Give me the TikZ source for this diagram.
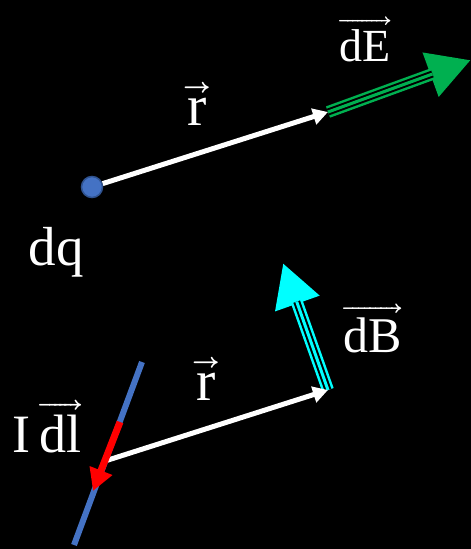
\documentclass[tikz,border=0pt]{standalone}
\usepackage{amsmath}
\usepackage{unicode-math}
\setmainfont{Liberation Serif}
\setmathfont{Latin Modern Math}
\usetikzlibrary{arrows.meta}
\definecolor{wireblue}{HTML}{4472C4}
\definecolor{dotedge}{HTML}{2F528F}
\definecolor{fieldgreen}{HTML}{00B050}
\definecolor{fieldcyan}{HTML}{00FFFF}
\tikzset{
  lab/.style={text=white, inner sep=0pt, anchor=base, font=\fontsize{#1}{#1}\selectfont},
  lab/.default=52,
  vecr/.style={draw=white, line width=5pt, -{Triangle[length=15pt,width=16pt]}},
  wire/.style={draw=wireblue, line width=6pt},
  elem/.style={draw=red, line width=7pt, -{Triangle[length=22pt,width=23pt]}},
  charge/.style={circle, fill=wireblue, draw=dotedge, line width=1.5pt, minimum size=21pt, inner sep=0pt},
  field/.style={draw=#1, line width=12pt, -{Triangle[length=43pt,width=44pt]},
    postaction={draw=black, line width=7pt, shorten >=41pt, -},
    postaction={draw=#1, line width=3pt, shorten >=41pt, -}}
}
\begin{document}
\begin{tikzpicture}[x=1pt, y=-1pt]
\fill[black] (0,0) rectangle (471,549);
\useasboundingbox (0,0) rectangle (471,549);
% point charge and its field
\node[charge] (q) at (92,187) {};
\coordinate (rE) at (328,112);
\coordinate (Etip) at (471,60);
\draw[field=fieldgreen] (rE) -- (Etip);
\draw[vecr] (q) -- (rE);
\node[lab=55] (dq) at (56,265) {dq};
\node[lab=58] (r1) at (197,125) {$\overrightarrow{\text{r}}$};
\node[lab=46] (dE) at (365,61) {$\overrightarrow{\text{dE}}$};
% current element and its field
\coordinate (w1) at (142,362);
\coordinate (w2) at (74,545);
\coordinate (e1) at (120,422);
\coordinate (e2) at (93,491);
\coordinate (o) at (105,461);
\coordinate (rB) at (328,390);
\coordinate (Btip) at (283,263);
\draw[wire] (w1) -- (w2);
\draw[field=fieldcyan] (rB) -- (Btip);
\draw[vecr] (o) -- (rB);
\draw[elem] (e1) -- (e2);
\node[lab=58] (r2) at (206,400) {$\overrightarrow{\text{r}}$};
\node[lab=50] (dB) at (373,352) {$\overrightarrow{\text{dB}}$};
\node[lab=54] (Idl) at (47,452) {I\,$\overrightarrow{\text{dl}}$};
\end{tikzpicture}
\end{document}
